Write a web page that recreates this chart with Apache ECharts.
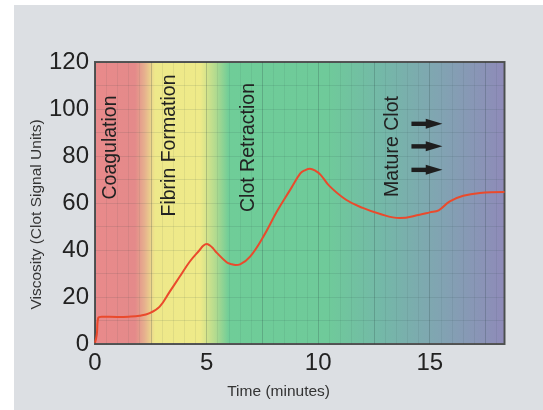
<!DOCTYPE html>
<html>
<head>
<meta charset="utf-8">
<script src="https://cdn.jsdelivr.net/npm/echarts@6/dist/echarts.min.js"></script>
<style>
  html, body { margin: 0; padding: 0; background: #ffffff; }
  #c { position: absolute; left: 14px; top: 5px; width: 529px; height: 405px; }
</style>
</head>
<body>
<div id="c"></div>
<script>
// ---- data ----
const timeMin = [0, 0.08, 0.15, 0.3, 1.0, 1.5, 2.0, 2.45, 2.9, 3.35, 3.8, 4.25, 4.7, 4.85, 5.0, 5.15, 5.3, 5.45, 5.9, 6.1, 6.3, 6.5, 6.95, 7.55, 8.15, 8.75, 9.2, 9.4, 9.63, 9.85, 10.1, 10.5, 11.25, 12.0, 12.75, 13.65, 14.55, 15.0, 15.4, 15.9, 16.5, 17.25, 18.35];
const viscosity = [0.5, 4, 11.2, 11.6, 11.5, 11.6, 12.0, 13.1, 15.9, 22.3, 28.7, 35.1, 40.1, 41.8, 42.6, 41.9, 40.6, 38.9, 34.8, 34.0, 33.6, 33.9, 37.2, 45.8, 56.4, 65.7, 72.6, 73.9, 74.6, 73.9, 72.1, 67.3, 61.4, 57.9, 55.4, 53.6, 55.0, 56.0, 56.9, 60.7, 63.1, 64.3, 64.7];
const xTickLabels = ['0', '5', '10', '15'];
const yTickLabels = ['0', '20', '40', '60', '80', '100', '120'];
const phaseLabels = ['Coagulation', 'Fibrin Formation', 'Clot Retraction', 'Mature Clot'];
// arrows next to "Mature Clot" (start, head base, tip, level) in data units
const arrowStart = [14.18, 14.18, 14.18];
const arrowHeadBase = [14.82, 14.82, 14.82];
const arrowTip = [15.57, 15.57, 15.57];
const arrowLevel = [93.7, 84.1, 74.1];

const X_MAX = 18.35;
const font = "'Liberation Sans', Arial, Helvetica, sans-serif";

const lineData = timeMin.map((t, i) => [t, viscosity[i]]);
const arrowData = arrowStart.map((s, i) => [s, arrowHeadBase[i], arrowTip[i], arrowLevel[i]]);

const chart = echarts.init(document.getElementById('c'), null, { renderer: 'canvas' });

const bg = {
  type: 'linear', x: 0, y: 0, x2: 1, y2: 0,
  colorStops: [
    { offset: 0.00, color: '#e98a8b' },
    { offset: 0.10, color: '#e48a8a' },
    { offset: 0.123, color: '#e6b08e' },
    { offset: 0.148, color: '#eee88a' },
    { offset: 0.258, color: '#eeea89' },
    { offset: 0.295, color: '#b3db8f' },
    { offset: 0.328, color: '#6fcd98' },
    { offset: 0.57, color: '#6fca9a' },
    { offset: 0.70, color: '#74b8a8' },
    { offset: 0.84, color: '#81a4b2' },
    { offset: 1.00, color: '#8f8ab9' }
  ]
};

chart.setOption({
  animation: false,
  backgroundColor: '#dcdfe3',
  grid: {
    left: 81, top: 57, right: 38.5, bottom: 66,
    show: true,
    backgroundColor: bg,
    borderColor: '#555555',
    borderWidth: 2
  },
  xAxis: [
    {
      type: 'value', min: 0, max: X_MAX, interval: 2.5,
      axisLine: { show: false },
      axisTick: { show: false },
      axisLabel: {
        margin: 7,
        fontSize: 24, color: '#222', fontFamily: font,
        showMaxLabel: false,
        formatter: v => {
          const k = Math.round(v / 5);
          return Math.abs(v - k * 5) < 1e-6 ? (xTickLabels[k] || '') : '';
        }
      },
      splitLine: { show: true, lineStyle: { color: 'rgba(40,60,60,0.16)', width: 1 } }
    },
    {
      type: 'value', min: 0, max: X_MAX, interval: 0.5,
      show: true,
      position: 'bottom',
      axisLine: { show: false },
      axisTick: { show: false },
      axisLabel: { show: false },
      splitLine: { show: true, lineStyle: { color: 'rgba(40,60,60,0.08)', width: 1 } }
    }
  ],
  yAxis: {
    type: 'value', min: 0, max: 120, interval: 10,
    axisLine: { show: false },
    axisTick: { show: false },
    axisLabel: {
      margin: 6,
      fontSize: 24, color: '#222', fontFamily: font,
      padding: [6, 0, 0, 0],
      formatter: v => {
        const k = Math.round(v / 20);
        return Math.abs(v - k * 20) < 1e-6 ? (yTickLabels[k] || '') : '';
      }
    },
    splitLine: { show: true, lineStyle: { color: 'rgba(40,60,60,0.11)', width: 1 } }
  },
  series: [
    {
      type: 'line',
      xAxisIndex: 0, yAxisIndex: 0,
      data: lineData,
      smooth: 0.4,
      showSymbol: false,
      lineStyle: { color: '#ea4a2c', width: 2 },
      z: 5
    },
    {
      type: 'custom',
      xAxisIndex: 0, yAxisIndex: 0,
      data: arrowData,
      z: 6,
      renderItem: (params, api) => {
        const y = api.value(3);
        const p0 = api.coord([api.value(0), y]);
        const pb = api.coord([api.value(1), y]);
        const pt = api.coord([api.value(2), y]);
        return {
          type: 'group',
          children: [
            { type: 'rect', shape: { x: p0[0], y: p0[1] - 2.2, width: pb[0] - p0[0] + 1, height: 4.4 }, style: { fill: '#1e1e1e' } },
            { type: 'polygon', shape: { points: [[pb[0], pb[1] - 5], [pt[0], pt[1]], [pb[0], pb[1] + 5]] }, style: { fill: '#1e1e1e' } }
          ]
        };
      }
    }
  ],
  graphic: [
    { type: 'text', x: 96.5, y: 142.5, rotation: Math.PI / 2, z: 10,
      style: { text: phaseLabels[0], fontSize: 19.5, fontFamily: font, fill: '#222', align: 'center', verticalAlign: 'middle' } },
    { type: 'text', x: 156, y: 140.5, rotation: Math.PI / 2, z: 10,
      style: { text: phaseLabels[1], fontSize: 19.5, fontFamily: font, fill: '#222', align: 'center', verticalAlign: 'middle' } },
    { type: 'text', x: 234.5, y: 142.5, rotation: Math.PI / 2, z: 10,
      style: { text: phaseLabels[2], fontSize: 19.5, fontFamily: font, fill: '#222', align: 'center', verticalAlign: 'middle' } },
    { type: 'text', x: 379, y: 141.5, rotation: Math.PI / 2, z: 10,
      style: { text: phaseLabels[3], fontSize: 19.5, fontFamily: font, fill: '#222', align: 'center', verticalAlign: 'middle' } },
    { type: 'text', x: 22.5, y: 209.5, rotation: Math.PI / 2, z: 10,
      style: { text: 'Viscosity (Clot Signal Units)', fontSize: 15.5, fontFamily: font, fill: '#333', align: 'center', verticalAlign: 'middle' } },
    { type: 'text', x: 264.6, y: 387, z: 10,
      style: { text: 'Time (minutes)', fontSize: 15.5, fontFamily: font, fill: '#333', align: 'center', verticalAlign: 'middle' } }
  ]
});
</script>
</body>
</html>
